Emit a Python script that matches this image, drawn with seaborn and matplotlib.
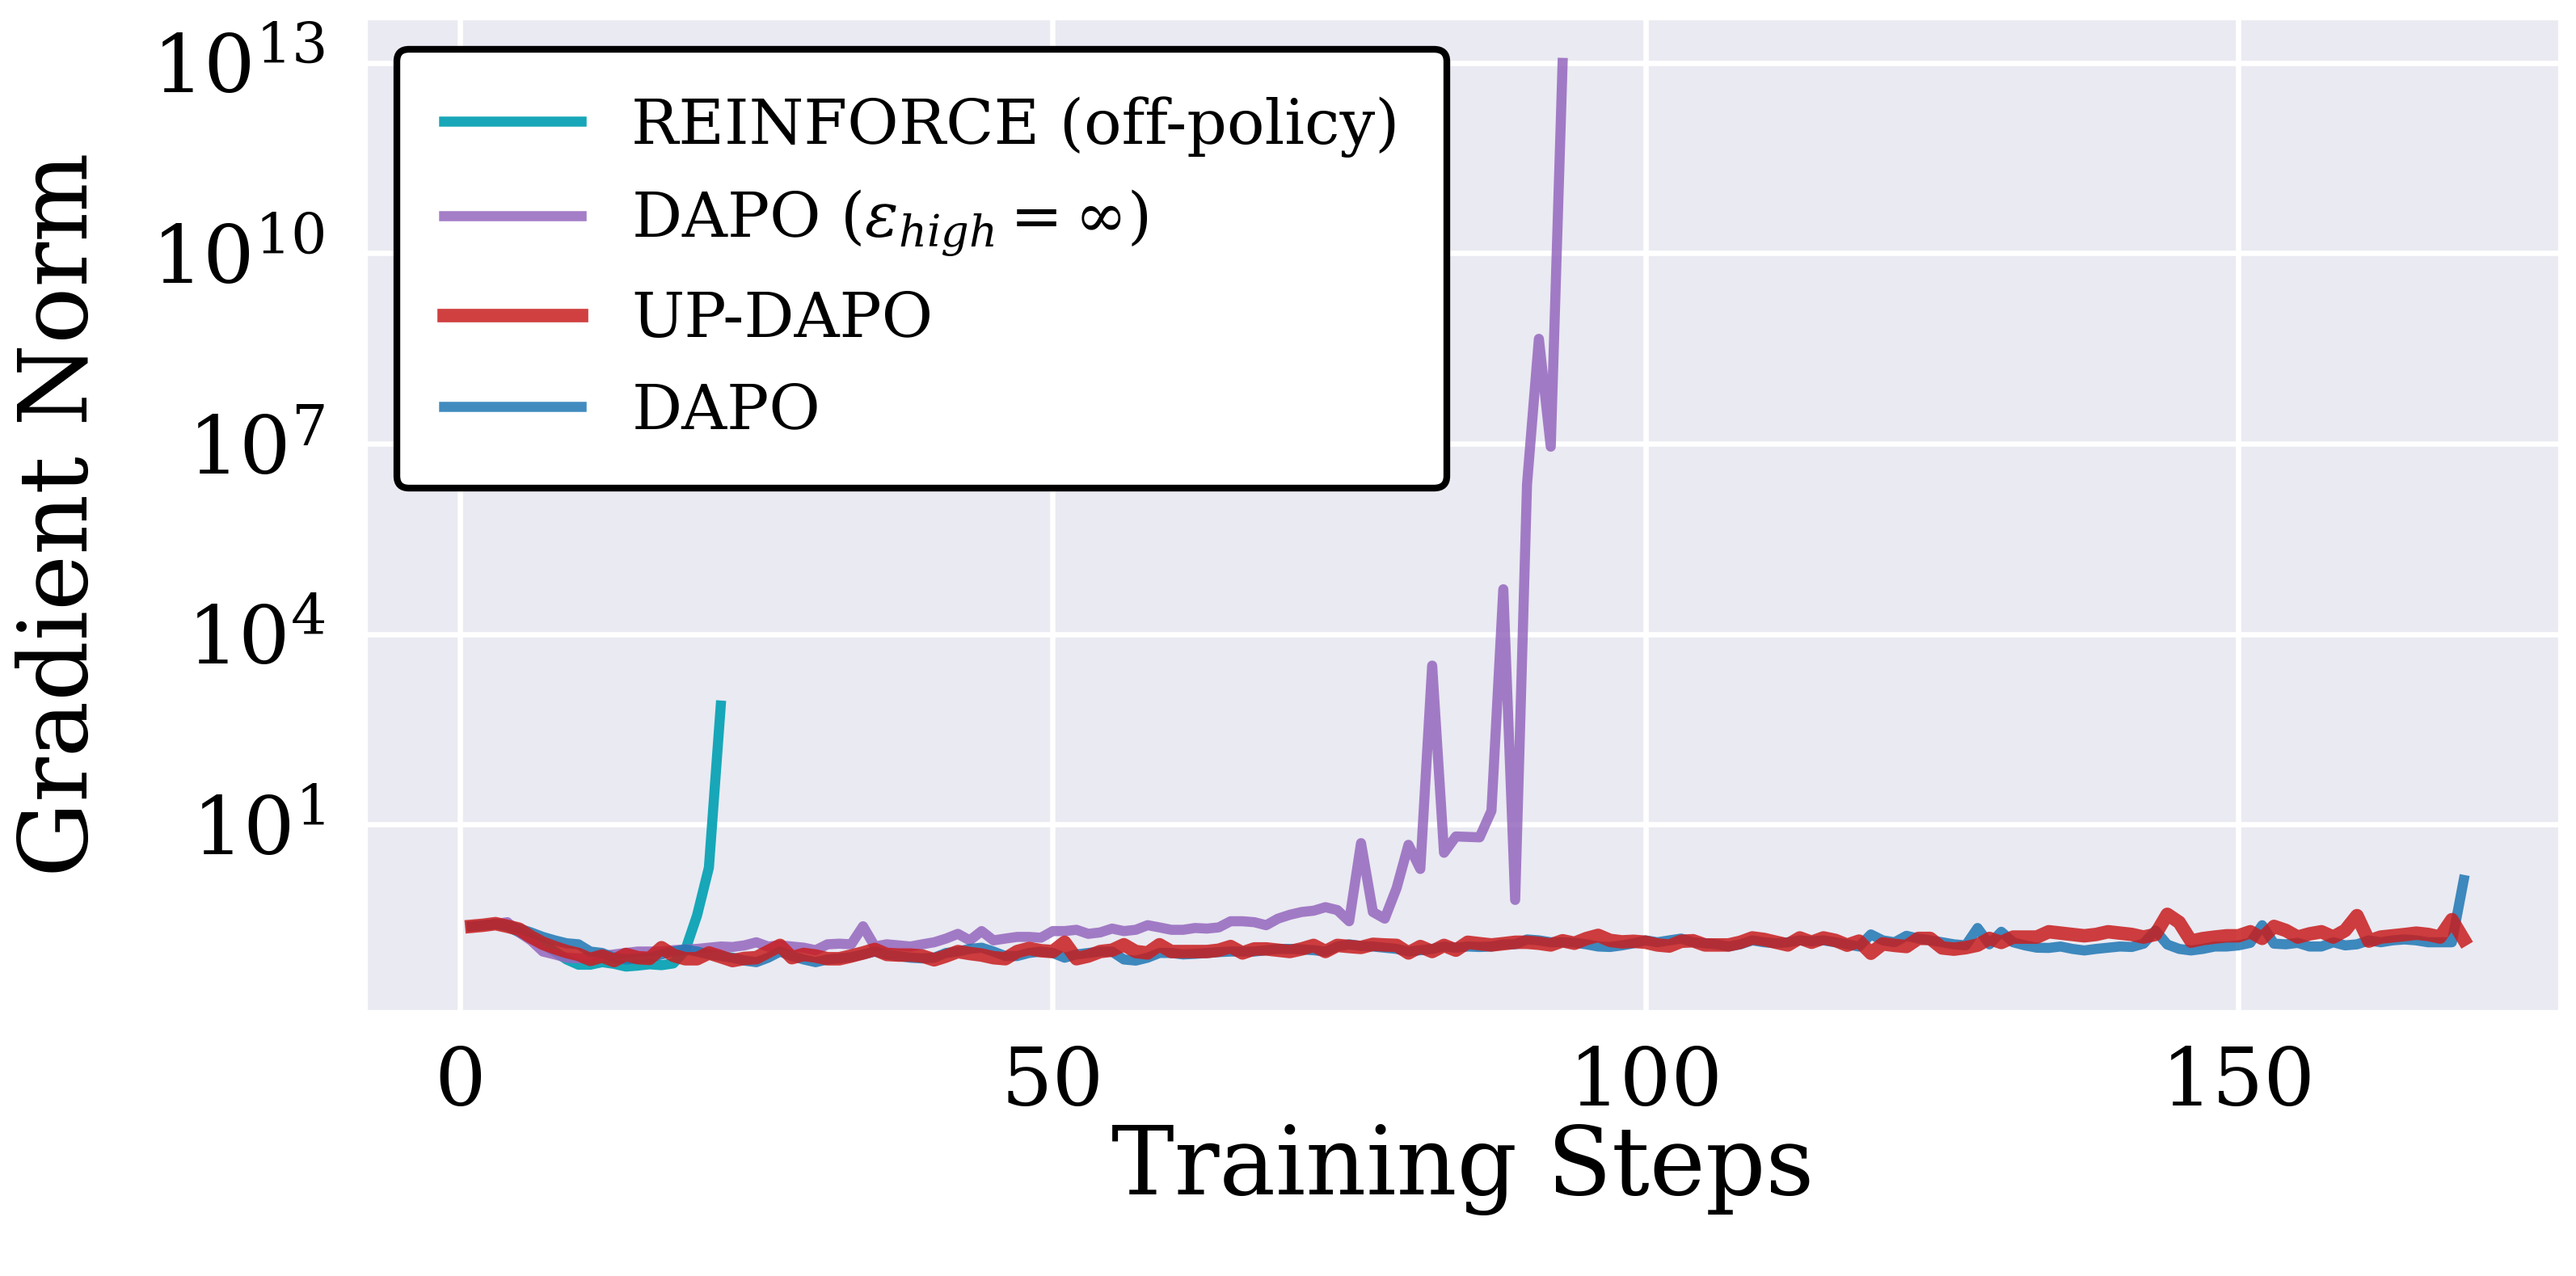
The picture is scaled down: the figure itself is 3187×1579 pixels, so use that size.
import matplotlib
matplotlib.use("Agg")
import matplotlib.pyplot as plt
import numpy as np
import pandas as pd
import seaborn as sns
from matplotlib.ticker import NullLocator, FixedLocator

# ---------------- data ----------------
steps_reinforce = list(range(1, 23))
reinforce = [0.25, 0.26, 0.27, 0.25, 0.20, 0.16, 0.13, 0.10, 0.075, 0.062,
             0.062, 0.068, 0.064, 0.058, 0.06, 0.063, 0.061, 0.065, 0.104, 0.37,
             2.1, 750]

steps_dapo_inf = list(range(1, 94))
dapo_inf = [0.25, 0.26, 0.27, 0.29, 0.20, 0.15, 0.10, 0.09, 0.08, 0.078,
            0.08, 0.085, 0.09, 0.095, 0.10, 0.10, 0.10, 0.105, 0.108, 0.11,
            0.115, 0.12, 0.118, 0.125, 0.14, 0.12, 0.125, 0.12, 0.115, 0.105,
            0.13, 0.133, 0.13, 0.25, 0.12, 0.13, 0.125, 0.12, 0.13, 0.14,
            0.16, 0.19, 0.15, 0.21, 0.15, 0.16, 0.17, 0.17, 0.165, 0.21,
            0.21, 0.22, 0.19, 0.20, 0.23, 0.21, 0.22, 0.26, 0.24, 0.22,
            0.22, 0.235, 0.23, 0.24, 0.30, 0.30, 0.29, 0.26, 0.33, 0.38,
            0.42, 0.44, 0.50, 0.45, 0.30, 5.1, 0.42, 0.33, 1.0, 4.8,
            2.0, 3200, 3.6, 6.5, 6.4, 6.3, 16.5, 5.1e4, 0.65, 2.3e6,
            4.5e8, 9e6, 1e13]

steps = list(range(1, 170))
up_dapo = [0.25, 0.26, 0.275, 0.25, 0.225, 0.17, 0.135, 0.115, 0.10, 0.09,
           0.075, 0.085, 0.072, 0.09, 0.08, 0.078, 0.115, 0.087, 0.077, 0.077,
           0.095, 0.083, 0.072, 0.078, 0.08, 0.10, 0.125, 0.08, 0.09, 0.085,
           0.077, 0.077, 0.085, 0.095, 0.108, 0.09, 0.088, 0.088, 0.085, 0.074,
           0.085, 0.10, 0.093, 0.088, 0.08, 0.077, 0.10, 0.112, 0.103, 0.10,
           0.14, 0.077, 0.085, 0.10, 0.105, 0.128, 0.10, 0.095, 0.128, 0.10,
           0.10, 0.10, 0.10, 0.105, 0.12, 0.095, 0.11, 0.11, 0.105, 0.10,
           0.11, 0.125, 0.10, 0.125, 0.12, 0.116, 0.13, 0.127, 0.125, 0.095,
           0.12, 0.10, 0.125, 0.105, 0.14, 0.133, 0.127, 0.133, 0.14, 0.14,
           0.135, 0.127, 0.148, 0.135, 0.16, 0.18, 0.15, 0.142, 0.145, 0.14,
           0.127, 0.122, 0.145, 0.148, 0.127, 0.127, 0.127, 0.14, 0.164, 0.155,
           0.14, 0.127, 0.164, 0.14, 0.164, 0.15, 0.126, 0.146, 0.094, 0.132,
           0.125, 0.12, 0.161, 0.161, 0.114, 0.109, 0.115, 0.126, 0.161, 0.139,
           0.169, 0.169, 0.169, 0.205, 0.195, 0.186, 0.177, 0.186, 0.205, 0.195,
           0.186, 0.169, 0.186, 0.386, 0.289, 0.146, 0.16, 0.169, 0.177, 0.177,
           0.205, 0.161, 0.249, 0.215, 0.169, 0.19, 0.205, 0.169, 0.215, 0.368,
           0.146, 0.169, 0.177, 0.185, 0.195, 0.186, 0.169, 0.318, 0.155]

dapo = [0.25, 0.26, 0.27, 0.26, 0.23, 0.20, 0.17, 0.15, 0.135, 0.13,
        0.10, 0.095, 0.08, 0.075, 0.078, 0.08, 0.09, 0.10, 0.108, 0.10,
        0.09, 0.085, 0.08, 0.072, 0.068, 0.08, 0.10, 0.085, 0.075, 0.068,
        0.075, 0.078, 0.082, 0.09, 0.10, 0.09, 0.085, 0.08, 0.078, 0.08,
        0.095, 0.10, 0.11, 0.115, 0.10, 0.085, 0.085, 0.095, 0.10, 0.095,
        0.08, 0.09, 0.095, 0.10, 0.10, 0.075, 0.072, 0.08, 0.095, 0.095,
        0.09, 0.092, 0.095, 0.098, 0.10, 0.10, 0.10, 0.105, 0.11, 0.11,
        0.108, 0.105, 0.10, 0.12, 0.13, 0.122, 0.12, 0.115, 0.11, 0.10,
        0.105, 0.11, 0.12, 0.115, 0.12, 0.118, 0.12, 0.13, 0.13, 0.155,
        0.15, 0.14, 0.14, 0.138, 0.13, 0.12, 0.118, 0.125, 0.135, 0.15,
        0.14, 0.15, 0.16, 0.14, 0.135, 0.13, 0.12, 0.13, 0.15, 0.14,
        0.135, 0.14, 0.15, 0.145, 0.15, 0.14, 0.13, 0.12, 0.186, 0.15,
        0.14, 0.177, 0.16, 0.15, 0.14, 0.13, 0.125, 0.235, 0.13, 0.205,
        0.14, 0.125, 0.115, 0.114, 0.12, 0.11, 0.104, 0.11, 0.115, 0.12,
        0.118, 0.133, 0.215, 0.129, 0.11, 0.104, 0.11, 0.12, 0.12, 0.125,
        0.137, 0.26, 0.133, 0.13, 0.137, 0.12, 0.12, 0.14, 0.125, 0.13,
        0.15, 0.14, 0.15, 0.155, 0.15, 0.14, 0.14, 0.14, 1.34]

assert len(reinforce) == len(steps_reinforce)
assert len(dapo_inf) == len(steps_dapo_inf)
assert len(up_dapo) == len(steps)
assert len(dapo) == len(steps)

labels = ["REINFORCE (off-policy)", r"DAPO ($\varepsilon_{high}=\infty$)", "UP-DAPO", "DAPO"]
yticks = [1e1, 1e4, 1e7, 1e10, 1e13]
xticks = [0, 50, 100, 150]

# ---------------- style ----------------
sns.set_theme(style="darkgrid")
plt.rcParams["font.family"] = ["DejaVu Serif"]
plt.rcParams["mathtext.fontset"] = "dejavuserif"
plt.rcParams["lines.solid_capstyle"] = "projecting"
plt.rcParams["lines.solid_joinstyle"] = "round"
for k in ["text.color", "axes.labelcolor", "xtick.color", "ytick.color"]:
    plt.rcParams[k] = "black"

fig = plt.figure(figsize=(3187 / 300, 1579 / 300), dpi=300)
ax = fig.add_axes([0.1418, 0.2071, 0.9937 - 0.1418, 0.9861 - 0.2071])

c_teal = "#17a7b8"
c_purple = "#9467bd"
c_red = "#c81e1e"
c_blue = "#1f77b4"

sns.lineplot(x=steps_reinforce, y=reinforce, ax=ax, color=c_teal, lw=3.0, alpha=1.0, label=labels[0])
sns.lineplot(x=steps_dapo_inf, y=dapo_inf, ax=ax, color=c_purple, lw=3.0, alpha=0.85, label=labels[1])
sns.lineplot(x=steps, y=dapo, ax=ax, color=c_blue, lw=3.0, alpha=0.85, label=labels[3])
sns.lineplot(x=steps, y=up_dapo, ax=ax, color=c_red, lw=4.0, alpha=0.85, label=labels[2])

ax.set_yscale("log")
ax.yaxis.set_major_locator(FixedLocator(yticks))
ax.yaxis.set_minor_locator(NullLocator())
ax.set_xticks(xticks)
ax.set_xlim(-7.98, 177.1)

for line in ax.get_lines():
    line.set_solid_capstyle("projecting")

ax.grid(True, color="white", lw=1.6)
ax.tick_params(axis="both", labelsize=24, length=0, colors="black")
ax.tick_params(axis="y", pad=12)
ax.tick_params(axis="x", pad=10)
ax.set_xlabel("Training Steps", fontsize=28, labelpad=0, color="black")
ax.set_ylabel("Gradient Norm", fontsize=28, labelpad=13, color="black")

handles, labs = ax.get_legend_handles_labels()
order = [labs.index(l) for l in labels]
leg = ax.legend([handles[i] for i in order], [labs[i] for i in order],
                loc="upper left", fontsize=18.6, frameon=True, fancybox=True,
                edgecolor="black", facecolor="white", framealpha=1.0,
                borderpad=0.75, labelspacing=0.5, handlelength=2.2,
                handletextpad=0.8, shadow=False)
leg.get_frame().set_linewidth(2.0)
for t in leg.get_texts():
    t.set_color("black")

fig.savefig("out.png", dpi=300)
